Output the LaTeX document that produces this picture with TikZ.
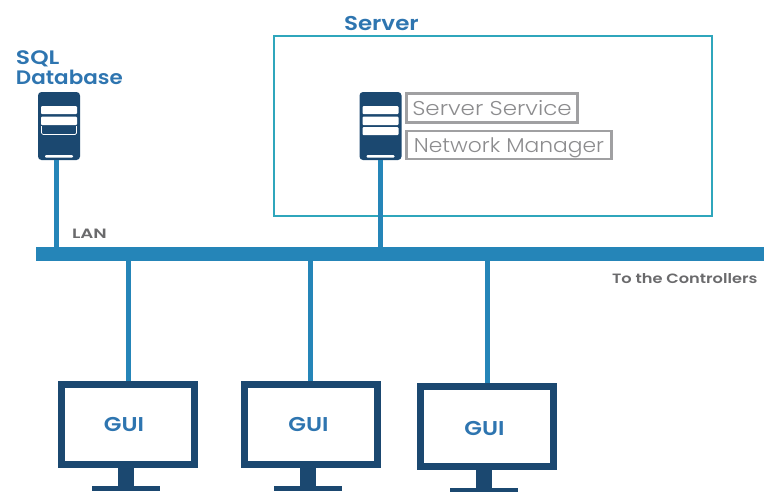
\documentclass[tikz,border=0pt]{standalone}
\usepackage{fontspec}
\setmainfont{Poppins}
\newfontfamily\svcA{Poppins Light}[FakeStretch=1.15]
\newfontfamily\svcB{Poppins Light}[FakeStretch=1.09]
\newfontfamily\headA{Poppins SemiBold}[FakeStretch=1.15]
\newfontfamily\headB{Poppins SemiBold}[FakeStretch=1.1]
\newfontfamily\headC{Poppins SemiBold}[FakeStretch=1.2]
\newfontfamily\noteA{Poppins SemiBold}[FakeStretch=1.2]
\newfontfamily\noteB{Poppins SemiBold}[FakeStretch=1.35]
\definecolor{navy}{HTML}{1B4870}
\definecolor{busblue}{HTML}{2585B8}
\definecolor{teal2}{HTML}{2FA6BC}
\definecolor{txtblue}{HTML}{2E75B0}
\definecolor{boxgray}{HTML}{A0A0A2}
\definecolor{svctext}{HTML}{8C8C8E}
\definecolor{txtgray}{HTML}{6A6A6C}
\tikzset{
  px/.style={x=1pt,y=-1pt},
  boxnode/.style={rectangle,inner sep=0pt,outer sep=0pt,anchor=north west},
  bus/.style={boxnode,fill=busblue,minimum width=728pt,minimum height=14pt},
  link/.style={draw=busblue,line width=5pt},
  serverbody/.style={boxnode,fill=navy,rounded corners=3.5pt,minimum width=42pt,minimum height=68pt},
  bar/.style={fill=white,rounded corners=1pt},
  groupbox/.style={boxnode,draw=teal2,line width=2.4pt,minimum width=438pt,minimum height=180pt},
  svc/.style={boxnode,draw=boxgray,line width=2.6pt,text=svctext,align=center,text height=15pt,text depth=0pt},
  title/.style={inner sep=0pt,outer sep=0pt,text=txtblue,anchor=west},
  note/.style={inner sep=0pt,outer sep=0pt,text=txtgray,anchor=west},
  screen/.style={boxnode,draw=navy,line width=7pt,fill=white,minimum width=133pt,minimum height=80pt},
  guitext/.style={inner sep=0pt,text=txtblue,font=\fontsize{20}{22}\headA},
  stand/.style={fill=navy}
}
\newcommand{\monitorstand}[2]{% centre x, top y of the screen
  \fill[stand] (#1-8,#2+87) rectangle (#1+8,#2+105);
  \fill[stand] (#1-34.5,#2+105) rectangle (#1+33.5,#2+110);
}
\begin{document}
\begin{tikzpicture}[px]
\useasboundingbox (0,0) rectangle (764,491);
% server group
\node[groupbox] (group) at (274,36) {};
\node[title,font=\fontsize{20}{22}\headA] (servertitle) at (344,23.5) {Server};
% servers
\node[serverbody] (sqlsrv) at (38,92) {};
\node[serverbody] (appsrv) at (359.5,92) {};
\foreach \x in {41,362.5}{
  \fill[bar] (\x,106) rectangle (\x+36,114);
  \fill[bar] (\x,116.5) rectangle (\x+36,125);
  \fill[bar] (\x+4,155) rectangle (\x+32,157.5);
}
\fill[bar] (362.5,127) rectangle (398.5,135);
\draw[white,line width=.7pt,rounded corners=1.5pt] (41.5,126) -- (41.5,134.5) -- (76.5,134.5) -- (76.5,126);
% labels
\node[title,font=\fontsize{19.5}{22}\headC] (sqltitle) at (16,58.5) {SQL};
\node[title,font=\fontsize{19.5}{22}\headB] (dbtitle) at (16,77) {Database};
\node[svc,minimum width=171pt,minimum height=29pt,font=\fontsize{20}{22}\svcA] (service) at (406.5,93.5) {Server Service};
\node[svc,minimum width=205pt,minimum height=28pt,font=\fontsize{20}{22}\svcB] (manager) at (406.5,131) {Network Manager};
% bus
\node[bus] (lan) at (36,247) {};
\node[note,font=\fontsize{13.5}{15}\noteB] (lanlabel) at (72,233.5) {LAN};
\node[note,font=\fontsize{13.5}{15}\noteA] (ctrl) at (612,279) {To the Controllers};
% monitors
\node[screen] (gui1) at (61.5,384.5) {};
\node[screen] (gui2) at (244.5,384.5) {};
\node[screen] (gui3) at (420.5,386.5) {};
\node[guitext] (gt1) at (124,424.5) {GUI};
\node[guitext] (gt2) at (308.5,424.5) {GUI};
\node[guitext] (gt3) at (484.5,428) {GUI};
\monitorstand{126}{381}
\monitorstand{308}{381}
\monitorstand{484}{383}
% connectors
\coordinate (sqlout) at ([xshift=-3pt]sqlsrv.south);
\draw[link] (sqlout) -- (sqlout |- lan.north);
\draw[link] (appsrv.south) -- (appsrv.south |- lan.north);
\coordinate (g1in) at (128,381);
\coordinate (g2in) at (310.5,381);
\coordinate (g3in) at (487,383);
\draw[link] (g1in) -- (g1in |- lan.south);
\draw[link] (g2in) -- (g2in |- lan.south);
\draw[link] (g3in) -- (g3in |- lan.south);
\end{tikzpicture}
\end{document}
